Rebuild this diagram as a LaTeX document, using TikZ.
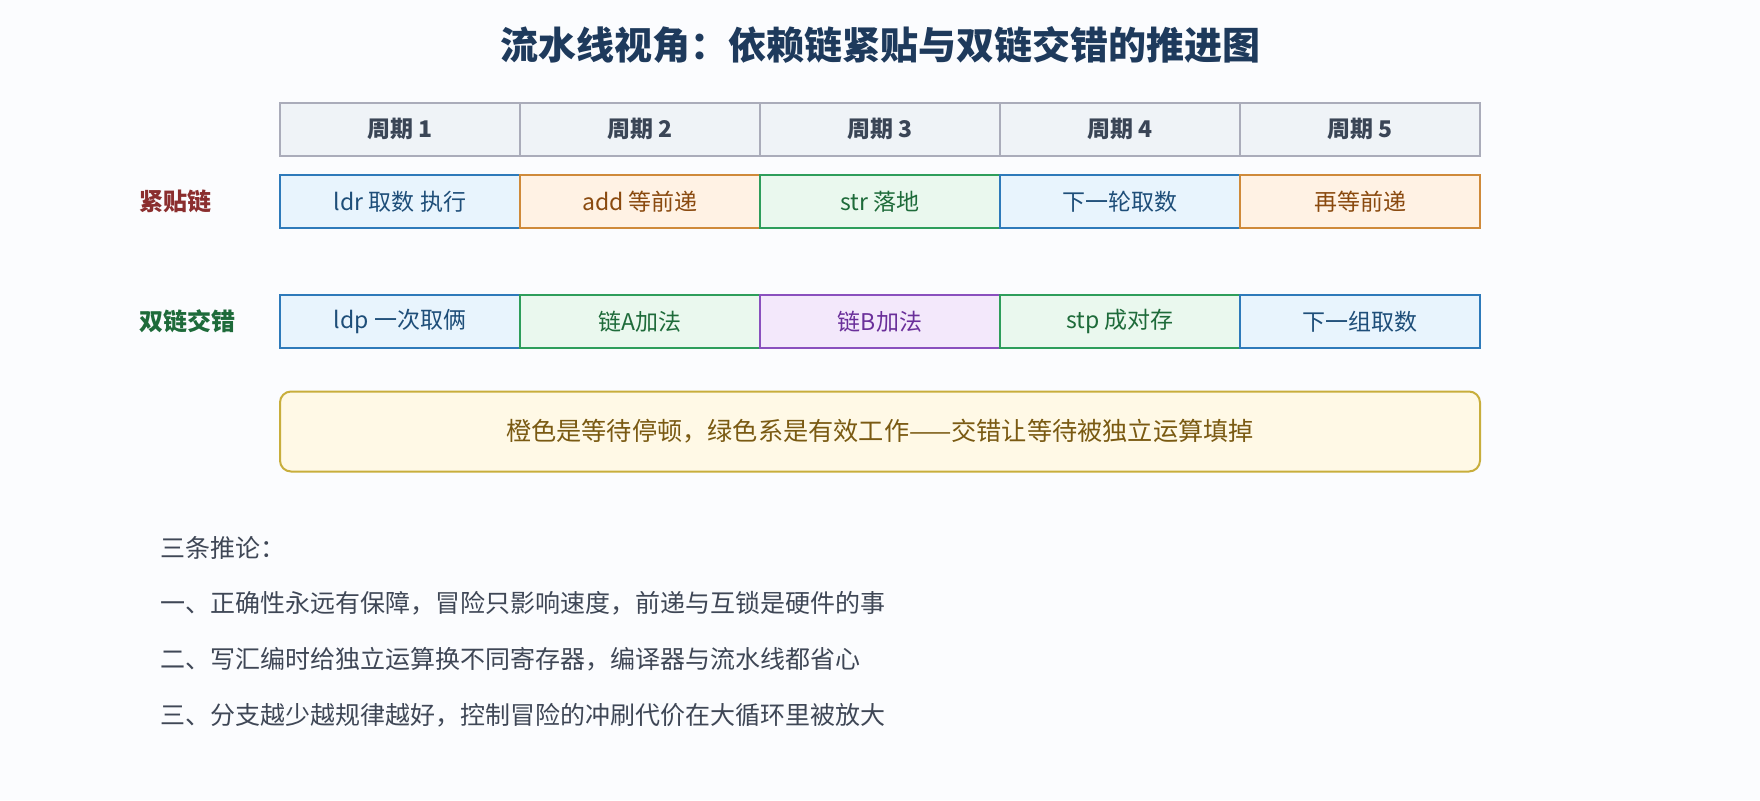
\documentclass[tikz,border=0pt]{standalone}
\usepackage{xcolor}
\usepackage{fontspec}
\setmainfont{Noto Sans CJK SC}
\usepackage{tikz}
\definecolor{bgc}{RGB}{251,252,254}
\definecolor{titlec}{RGB}{30,58,92}
\definecolor{headf}{RGB}{239,243,247}
\definecolor{headd}{RGB}{170,172,186}
\definecolor{headt}{RGB}{58,69,86}
\definecolor{bluef}{RGB}{232,244,253}
\definecolor{blued}{RGB}{46,122,186}
\definecolor{bluet}{RGB}{30,78,121}
\definecolor{orangef}{RGB}{255,242,228}
\definecolor{oranged}{RGB}{207,138,58}
\definecolor{oranget}{RGB}{138,74,15}
\definecolor{greenf}{RGB}{234,248,238}
\definecolor{greend}{RGB}{46,158,91}
\definecolor{greent}{RGB}{30,107,58}
\definecolor{purplef}{RGB}{243,232,251}
\definecolor{purpled}{RGB}{138,80,190}
\definecolor{purplet}{RGB}{106,47,154}
\definecolor{notef}{RGB}{255,249,230}
\definecolor{noted}{RGB}{200,174,60}
\definecolor{notet}{RGB}{122,90,18}
\definecolor{redl}{RGB}{139,46,46}
\definecolor{textc}{RGB}{63,71,86}

\begin{document}
\begin{tikzpicture}[x=0.5pt,y=-0.5pt,
  cell/.style={draw,line width=1pt,minimum width=120pt,minimum height=26.5pt,inner sep=0pt,font=\fontsize{11.5}{14}\selectfont},
  head/.style={cell,draw=headd,fill=headf,text=headt,font=\fontsize{11.5}{14}\selectfont\bfseries},
  bluecell/.style={cell,draw=blued,fill=bluef,text=bluet},
  orangecell/.style={cell,draw=oranged,fill=orangef,text=oranget},
  greencell/.style={cell,draw=greend,fill=greenf,text=greent},
  purplecell/.style={cell,draw=purpled,fill=purplef,text=purplet},
  rowlabel/.style={anchor=west,inner sep=0pt,font=\fontsize{12}{14}\selectfont\bfseries},
  remark/.style={anchor=west,inner sep=0pt,text=textc,font=\fontsize{12.5}{15}\selectfont}]
\useasboundingbox (0,0) rectangle (1760,800);
\fill[bgc] (0,0) rectangle (1760,800);
\node [text=titlec,font=\fontsize{19}{23}\selectfont\bfseries] (title) at (880,45) {流水线视角：依赖链紧贴与双链交错的推进图};

\node [head] (h1) at (400,129) {周期 1};
\node [head] (h2) at (640,129) {周期 2};
\node [head] (h3) at (880,129) {周期 3};
\node [head] (h4) at (1120,129) {周期 4};
\node [head] (h5) at (1360,129) {周期 5};

\node [rowlabel,text=redl] (la) at (139,201) {紧贴链};
\node [bluecell] (a1) at (400,201.5) {ldr 取数 执行};
\node [orangecell] (a2) at (640,201.5) {add 等前递};
\node [greencell] (a3) at (880,201.5) {str 落地};
\node [bluecell] (a4) at (1120,201.5) {下一轮取数};
\node [orangecell] (a5) at (1360,201.5) {再等前递};

\node [rowlabel,text=greent] (lb) at (139,321) {双链交错};
\node [bluecell] (b1) at (400,321.5) {ldp 一次取俩};
\node [greencell] (b2) at (640,321.5) {链A加法};
\node [purplecell] (b3) at (880,321.5) {链B加法};
\node [greencell] (b4) at (1120,321.5) {stp 成对存};
\node [bluecell] (b5) at (1360,321.5) {下一组取数};

\node [draw=noted,fill=notef,text=notet,line width=1pt,rounded corners=5.5pt,minimum width=600pt,minimum height=40pt,font=\fontsize{12.6}{15}\selectfont] (note) at (880,431.5) {橙色是等待停顿，绿色系是有效工作——交错让等待被独立运算填掉};

\node [remark] (r0) at (160,548) {三条推论：};
\node [remark] (r1) at (160,603) {一、正确性永远有保障，冒险只影响速度，前递与互锁是硬件的事};
\node [remark] (r2) at (160,659) {二、写汇编时给独立运算换不同寄存器，编译器与流水线都省心};
\node [remark] (r3) at (160,715) {三、分支越少越规律越好，控制冒险的冲刷代价在大循环里被放大};
\end{tikzpicture}
\end{document}
